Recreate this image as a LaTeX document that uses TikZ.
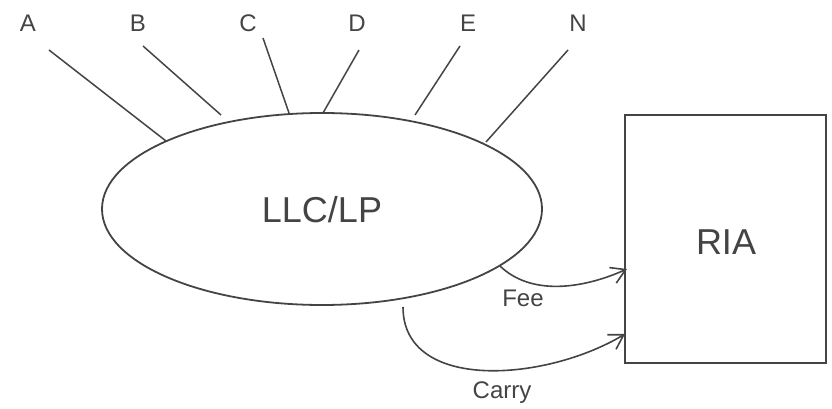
\documentclass[tikz,border=0pt]{standalone}
\usepackage{fontspec}
\setmainfont{Liberation Sans}
\usetikzlibrary{shapes.geometric,arrows.meta}
\definecolor{ink}{HTML}{444444}
\tikzset{
  lbl/.style={text=ink,font=\fontsize{24}{28}\selectfont,inner sep=0pt},
  big/.style={text=ink,font=\fontsize{36}{40}\selectfont,inner sep=0pt},
  wire/.style={draw=ink,line width=1.5pt},
  flow/.style={draw=ink,line width=1.6pt,-{Straight Barb[length=14pt,width=17pt,line width=1.6pt]}},
}
\begin{document}
\begin{tikzpicture}[x=1pt,y=-1pt]
\useasboundingbox (0,0) rectangle (832,409);
% main shapes
\node[ellipse,draw=ink,line width=1.8pt,minimum width=440pt,minimum height=192pt,inner sep=0pt] (llc) at (322,209) {};
\node[big] at (322,210) {LLC/LP};
\node[draw=ink,line width=1.8pt,minimum width=201pt,minimum height=248pt,inner sep=0pt] (ria) at (725.5,239) {};
\node[big] at (726,242) {RIA};
% top labels
\node[lbl] (A) at (28,23) {A};
\node[lbl] (B) at (138,23) {B};
\node[lbl] (C) at (248,23) {C};
\node[lbl] (D) at (357,23) {D};
\node[lbl] (E) at (468,23) {E};
\node[lbl] (N) at (578,23) {N};
% line end points
\coordinate (a1) at (49,50);  \coordinate (a2) at (166,141);
\coordinate (b1) at (143,46); \coordinate (b2) at (221,115);
\coordinate (c1) at (263,38); \coordinate (c2) at (289,113);
\coordinate (d1) at (359,50); \coordinate (d2) at (323,113);
\coordinate (e1) at (460,46); \coordinate (e2) at (415,115);
\coordinate (n1) at (568,50); \coordinate (n2) at (486,142);
\draw[wire] (a1) -- (a2);
\draw[wire] (b1) -- (b2);
\draw[wire] (c1) -- (c2);
\draw[wire] (d1) -- (d2);
\draw[wire] (e1) -- (e2);
\draw[wire] (n1) -- (n2);
% flows
\coordinate (fs) at (500,266); \coordinate (fe) at (627,269);
\coordinate (cs) at (403,307); \coordinate (ce) at (625,334);
\draw[flow] (fs) .. controls (530,295) and (580,290) .. (fe);
\draw[flow] (cs) .. controls (403,392) and (545,382) .. (ce);
\node[lbl] (fee) at (523,298) {Fee};
\node[lbl] (carry) at (502,393) {Carry};
\end{tikzpicture}
\end{document}
